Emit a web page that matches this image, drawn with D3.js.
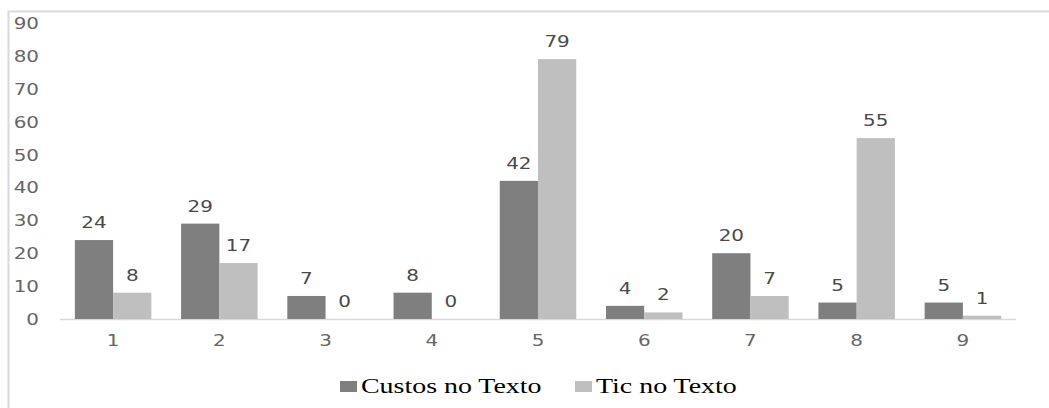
<!DOCTYPE html>
<html>
<head>
<meta charset="utf-8">
<script src="https://cdn.jsdelivr.net/npm/d3@7"></script>
<style>
  body { margin: 0; background: #fff; }
  svg { display: block; }
</style>
</head>
<body>
<div id="chart"></div>
<script>
// Chart data
const categories = ["1", "2", "3", "4", "5", "6", "7", "8", "9"];
const seriesNames = ["Custos no Texto", "Tic no Texto"];
const custosValues = [24, 29, 7, 8, 42, 4, 20, 5, 5];
const ticValues = [8, 17, 0, 0, 79, 2, 7, 55, 1];
const yTicks = [0, 10, 20, 30, 40, 50, 60, 70, 80, 90];

const WIDTH = 1049;
const HEIGHT = 408;
const COLORS = ["#7f7f7f", "#bfbfbf"];
const STRETCH = 1.33; // the reference text looks stretched horizontally

const margin = { left: 60, right: 33, top: 23, bottom: 89 };

const svg = d3.select("#chart").append("svg")
    .attr("width", WIDTH)
    .attr("height", HEIGHT);

// outer frame (only left and top visible in the reference)
svg.append("path")
    .attr("d", `M8.5,${HEIGHT} V11.5 H${WIDTH}`)
    .attr("fill", "none")
    .attr("stroke", "#d9d9d9")
    .attr("stroke-width", 2);

const x = d3.scaleBand()
    .domain(categories)
    .range([margin.left, WIDTH - margin.right])
    .paddingInner(0.28)
    .paddingOuter(0.14);

const x1 = d3.scaleBand()
    .domain(seriesNames)
    .range([0, x.bandwidth()]);

const y = d3.scaleLinear()
    .domain([0, 90])
    .range([HEIGHT - margin.bottom, margin.top]);

function stretchedText(sel, tx, ty, sx) {
    return sel.attr("transform", `translate(${tx},${ty}) scale(${sx || STRETCH},1)`);
}

// y tick labels
const yAxis = svg.append("g").attr("class", "y-axis");
yTicks.forEach(t => {
    stretchedText(yAxis.append("text"), 39, y(t) + 6)
        .attr("text-anchor", "end")
        .attr("font-family", "DejaVu Sans, Verdana, sans-serif")
        .attr("font-size", 15)
        .attr("fill", "#666")
        .text(t);
});

// baseline
svg.append("line")
    .attr("x1", margin.left)
    .attr("x2", WIDTH - margin.right)
    .attr("y1", y(0) + 0.5)
    .attr("y2", y(0) + 0.5)
    .attr("stroke", "#d9d9d9")
    .attr("stroke-width", 1.5);

// x tick labels
const xAxis = svg.append("g").attr("class", "x-axis");
categories.forEach(c => {
    stretchedText(xAxis.append("text"), x(c) + x.bandwidth() / 2, y(0) + 27)
        .attr("text-anchor", "middle")
        .attr("font-family", "DejaVu Sans, Verdana, sans-serif")
        .attr("font-size", 15)
        .attr("fill", "#666")
        .text(c);
});

// bars
const series = [custosValues, ticValues];
series.forEach((values, si) => {
    const g = svg.append("g").attr("class", "series-" + si);
    g.selectAll("rect")
        .data(values)
        .join("rect")
        .attr("x", (d, i) => x(categories[i]) + x1(seriesNames[si]))
        .attr("y", d => y(d))
        .attr("width", x1.bandwidth())
        .attr("height", d => y(0) - y(d))
        .attr("fill", COLORS[si]);

    values.forEach((d, i) => {
        stretchedText(g.append("text"),
                x(categories[i]) + x1(seriesNames[si]) + x1.bandwidth() / 2,
                y(d) - 12)
            .attr("text-anchor", "middle")
            .attr("font-family", "DejaVu Sans, Verdana, sans-serif")
            .attr("font-size", 15)
            .attr("fill", "#4a4a4a")
            .text(d);
    });
});

// legend
const legend = svg.append("g").attr("class", "legend");
const legendX = [340, 575];
seriesNames.forEach((name, i) => {
    legend.append("rect")
        .attr("x", legendX[i])
        .attr("y", 381)
        .attr("width", 17)
        .attr("height", 11)
        .attr("fill", COLORS[i]);
    stretchedText(legend.append("text"), legendX[i] + 21, 393, 1.33)
        .attr("font-family", "Liberation Serif, Times New Roman, serif")
        .attr("font-size", 21)
        .attr("fill", "#000")
        .text(name);
});
</script>
</body>
</html>
